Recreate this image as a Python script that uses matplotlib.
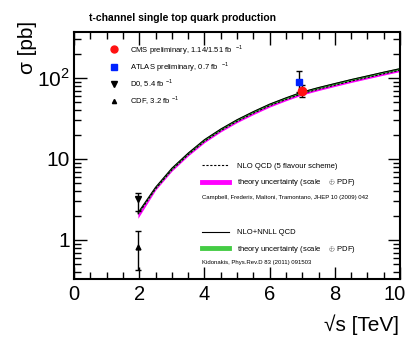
import matplotlib
matplotlib.use("Agg")
import matplotlib.pyplot as plt
import matplotlib.transforms as mtransforms
from matplotlib.lines import Line2D
from matplotlib.ticker import FixedLocator, NullFormatter, LogLocator

plt.rcParams['font.family'] = ['Liberation Sans', 'DejaVu Sans']
plt.rcParams['mathtext.fontset'] = 'custom'
plt.rcParams['mathtext.rm'] = 'Liberation Sans'

# theory curves
energy = [1.96, 2.5, 3, 3.5, 4, 4.5, 5, 5.5, 6, 6.5, 7, 7.5, 8, 8.5, 9, 9.5, 10]
nlo = [2.07, 4.27, 7.33, 11.3, 16.5, 22.4, 29.1, 36.7, 45.4, 54.2, 64.1, 72.7,
       81.5, 91.3, 101.3, 112.6, 124.5]
nlo_lo = [1.85, 4.12, 7.07, 10.9, 15.9, 21.6, 28.1, 35.3, 43.7, 52.3, 61.8, 70.0,
          78.6, 88.0, 97.7, 108.5, 120.0]
nlo_hi = [2.13, 4.41, 7.56, 11.65, 17.0, 23.1, 30.0, 37.8, 46.8, 55.9, 66.1, 74.9,
          84.1, 94.1, 104.5, 116.1, 128.4]
nnll = [2.16, 4.47, 7.68, 11.8, 17.3, 23.4, 30.5, 38.4, 47.5, 56.8, 67.1, 76.1,
        85.3, 95.5, 106.0, 117.9, 130.3]
nnll_lo = [2.10, 4.34, 7.45, 11.5, 16.76, 22.7, 29.6, 37.2, 46.1, 55.1, 65.1, 73.8,
           82.8, 92.7, 102.9, 114.4, 126.4]
nnll_hi = [2.23, 4.61, 7.9, 12.2, 17.8, 24.1, 31.4, 39.5, 48.9, 58.4, 69.1, 78.3,
           87.9, 98.4, 109.2, 121.4, 134.2]

# measurements: x, value, err down, err up
cms = (7.0, 69.0, 11.0, 13.0)
atlas = (6.9, 89.0, 22.0, 33.0)
d0 = (1.96, 3.2, 0.9, 0.6)
cdf = (1.96, 0.82, 0.39, 0.47)

fig = plt.figure(figsize=(4.09, 3.47), dpi=100)
ax = fig.add_axes([0.181, 0.196, 0.797, 0.712])

ax.fill_between(energy, nlo_lo, nlo_hi, color='#ff00ff', lw=0)
ax.fill_between(energy, nnll_lo, nnll_hi, color='#44cc44', lw=0)
ax.plot(energy, nlo, color='black', ls=(0, (2, 1.5)), lw=0.8)
ax.plot(energy, nnll, color='black', lw=0.8)

def meas(m, **kw):
    x, v, dn, up = m
    ax.errorbar([x], [v], yerr=[[dn], [up]], color='black', ecolor='black',
                elinewidth=1.0, capsize=2, capthick=1.0, ls='none', **kw)

meas(d0, marker='v', ms=4.5, mfc='black', mec='black')
meas(cdf, marker='^', ms=3.5, mfc='black', mec='black')
meas(atlas, marker='s', ms=5, mfc='#0022ff', mec='#0022ff')
meas(cms, marker='o', ms=6, mfc='#ff1111', mec='#ff1111')

ax.set_yscale('log')
ax.set_xlim(0, 10)
ax.set_ylim(0.33, 370)
ax.xaxis.set_major_locator(FixedLocator([0, 2, 4, 6, 8, 10]))
ax.xaxis.set_minor_locator(FixedLocator([i * 0.5 for i in range(21)]))
ax.yaxis.set_major_locator(FixedLocator([1, 10, 100]))
ax.yaxis.set_minor_locator(LogLocator(base=10, subs=range(2, 10)))
ax.yaxis.set_minor_formatter(NullFormatter())
ax.set_yticklabels(['1', '10', '10$^2$'])
ax.tick_params(which='both', direction='in', top=True, right=True, labelsize=15, width=1.0)
ax.tick_params(axis='x', labelsize=14.5)
ax.tick_params(which='major', length=9)
ax.tick_params(which='minor', length=5)
ax.tick_params(axis='x', pad=4)
ax.tick_params(axis='y', pad=3)
for s in ax.spines.values():
    s.set_linewidth(1.5)

# last x label sits a bit left of its tick, like the original
last = ax.xaxis.get_major_ticks()[-1].label1
last.set_transform(last.get_transform() +
                   mtransforms.ScaledTranslation(-0.05, 0, fig.dpi_scale_trans))

fig.text(0.446, 0.948, 't-channel single top quark production', fontsize=7.5,
         fontweight='bold', ha='center', va='center')
fig.text(0.068, 0.862, 'σ [pb]', fontsize=15, rotation=90, ha='center', va='center')
fig.text(0.976, 0.065, '√s [TeV]', fontsize=15, ha='right', va='center')

h_data = [
    Line2D([], [], ls='none', marker='o', ms=5, color='#ff1111'),
    Line2D([], [], ls='none', marker='s', ms=4.5, color='#0022ff'),
    Line2D([], [], ls='none', marker='v', ms=4, color='black'),
    Line2D([], [], ls='none', marker='^', ms=3, color='black'),
]
l_data = ['CMS preliminary, 1.14/1.51 fb  $^{-1}$', 'ATLAS preliminary, 0.7 fb  $^{-1}$',
          'D0, 5.4 fb $^{-1}$', 'CDF, 3.2 fb $^{-1}$']
leg1 = ax.legend(h_data, l_data, loc='upper left', bbox_to_anchor=(0.09, 0.985),
                 frameon=False, fontsize=5.5, handlelength=1.0, handletextpad=1.6,
                 labelspacing=0.45)
ax.add_artist(leg1)

h_nlo = [Line2D([], [], color='black', ls=(0, (2, 1.5)), lw=0.8),
         Line2D([], [], color='#ff00ff', lw=3.5)]
l_nlo = ['NLO QCD (5 flavour scheme)', 'theory uncertainty (scale    $\\oplus$ PDF)']
leg2 = ax.legend(h_nlo, l_nlo, loc='upper left', bbox_to_anchor=(0.37, 0.50),
                 frameon=False, fontsize=5.5, handlelength=3.6, handletextpad=1.0,
                 labelspacing=1.0)
ax.add_artist(leg2)

h_nnll = [Line2D([], [], color='black', lw=0.8),
          Line2D([], [], color='#44cc44', lw=3.5)]
l_nnll = ['NLO+NNLL QCD', 'theory uncertainty (scale    $\\oplus$ PDF)']
ax.legend(h_nnll, l_nnll, loc='upper left', bbox_to_anchor=(0.37, 0.23),
          frameon=False, fontsize=5.5, handlelength=3.6, handletextpad=1.0,
          labelspacing=1.0)

ax.text(0.393, 0.33, 'Campbell, Frederix, Maltoni, Tramontano, JHEP 10 (2009) 042',
        transform=ax.transAxes, fontsize=4.3, va='center')
ax.text(0.393, 0.065, 'Kidonakis, Phys.Rev.D 83 (2011) 091503',
        transform=ax.transAxes, fontsize=4.3, va='center')

fig.savefig('out.png', dpi=100)
